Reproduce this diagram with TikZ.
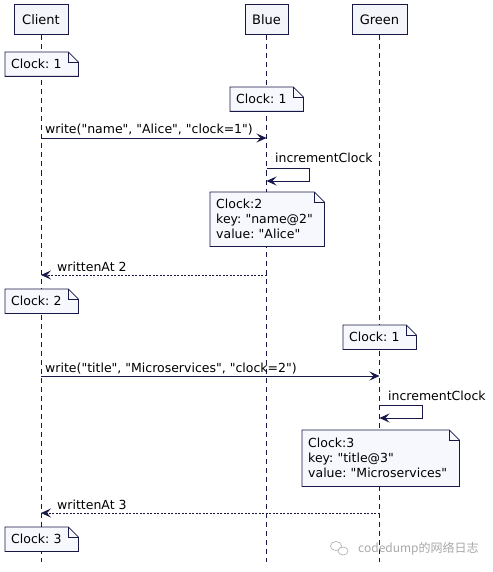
\documentclass[tikz,border=0pt]{standalone}
\usepackage{fontspec}
\newfontfamily\umlfont{DejaVu Sans}
\newfontfamily\cjkfont{Noto Sans CJK SC}
\usetikzlibrary{arrows.meta,backgrounds}
\definecolor{umlline}{HTML}{181848}
\definecolor{umlfill}{HTML}{F4F5FB}
\definecolor{notefill}{HTML}{F7F8FD}
\definecolor{wmgray}{HTML}{A8A8A8}
\frenchspacing
\tikzset{
  x=1pt, y=-1pt,
  every node/.style={font=\umlfont\fontsize{12.5}{15}\selectfont, text=black},
  actor/.style={draw=umlline, fill=umlfill, line width=1pt, minimum height=30pt, inner sep=0pt, font=\umlfont\fontsize{13}{15}\selectfont},
  lifeline/.style={draw=umlline, line width=0.8pt, dash pattern=on 5pt off 4pt},
  msg/.style={draw=umlline, line width=0.8pt, -{Stealth[length=10pt,width=9pt,inset=4pt]}},
  reply/.style={msg, dash pattern=on 2pt off 1.5pt},
  notebox/.style={anchor=north west, inner xsep=6pt, inner ysep=0pt, align=left, minimum height=#1},
  notebox/.default=24pt,
  noteline/.style={draw=umlline, line width=0.8pt, fill=notefill},
  msglabel/.style={anchor=base west, inner sep=0pt}
}
\newcommand{\notebg}[1]{%
  \begin{scope}[on background layer]
  \filldraw[noteline] (#1.north west) -- ([xshift=-10pt]#1.north east) -- ([yshift=-10pt]#1.north east) -- (#1.south east) -- (#1.south west) -- cycle;
  \draw[noteline, fill=none] ([xshift=-10pt]#1.north east) |- ([yshift=-10pt]#1.north east);
  \end{scope}}
\begin{document}
\begin{tikzpicture}
\useasboundingbox (0,0) rectangle (492,572);
% actors
\node[actor, minimum width=54pt] (client) at (41,20) {Client};
\node[actor, minimum width=43pt] (blue) at (266.5,20) {Blue};
\node[actor, minimum width=55pt] (green) at (379.5,20) {Green};
\coordinate (bot) at (0,562);
\begin{scope}[on background layer]
\draw[lifeline] (client.south) -- (client.south |- bot);
\draw[lifeline] (blue.south) -- (blue.south |- bot);
\draw[lifeline] (green.south) -- (green.south |- bot);
\end{scope}
% notes
\node[notebox, text width=61pt] (n1) at (5,52) {Clock: 1};
\notebg{n1}
\node[notebox, text width=61pt] (n2) at (230,87) {Clock: 1};
\notebg{n2}
% message 1
\coordinate (m1s) at (41,138);
\coordinate (m1e) at (266.5,138);
\draw[msg] (m1s) -- (m1e);
\node[msglabel] (l1) at (45,134) {write("name", "Alice", "clock=1")};
% self 1
\coordinate (s1a) at (266.5,168);
\coordinate (s1b) at (266.5,181);
\draw[msg] (s1a) -- ++(43,0) |- (s1b);
\node[msglabel] (l2) at (275,163) {incrementClock};
% note clock 2
\node[notebox=54pt, text width=102pt] (n3) at (210,192) {Clock:2\\key: "name@2"\\value: "Alice"};
\notebg{n3}
% reply 1
\coordinate (r1s) at (266.5,275);
\coordinate (r1e) at (41,275);
\draw[reply] (r1s) -- (r1e);
\node[msglabel] (l3) at (57,271) {writtenAt 2};
\node[notebox, text width=61pt] (n4) at (5,289) {Clock: 2};
\notebg{n4}
\node[notebox, text width=61pt] (n5) at (343,325) {Clock: 1};
\notebg{n5}
% message 2
\coordinate (m2s) at (41,376);
\coordinate (m2e) at (379.5,376);
\draw[msg] (m2s) -- (m2e);
\node[msglabel] (l4) at (45,372) {write("title", "Microservices", "clock=2")};
% self 2
\coordinate (s2a) at (379.5,405);
\coordinate (s2b) at (379.5,418);
\draw[msg] (s2a) -- ++(43,0) |- (s2b);
\node[msglabel] (l5) at (388,400) {incrementClock};
\node[notebox=56pt, text width=145pt] (n6) at (302,430) {Clock:3\\key: "title@3"\\value: "Microservices"};
\notebg{n6}
% reply 2
\coordinate (r2s) at (379.5,513);
\coordinate (r2e) at (41,513);
\draw[reply] (r2s) -- (r2e);
\node[msglabel] (l6) at (57,509) {writtenAt 3};
\node[notebox, text width=61pt] (n7) at (5,527) {Clock: 3};
\notebg{n7}
% watermark
\draw[wmgray, line width=0.6pt] (336,546) ellipse (5.5pt and 4.5pt);
\draw[wmgray, line width=0.6pt, fill=white] (343,551) ellipse (5pt and 4pt);
\node[anchor=west, inner sep=0pt, text=wmgray, font=\cjkfont\fontsize{12}{14}\selectfont] (wm) at (358,549) {codedump的网络日志};
\end{tikzpicture}
\end{document}
